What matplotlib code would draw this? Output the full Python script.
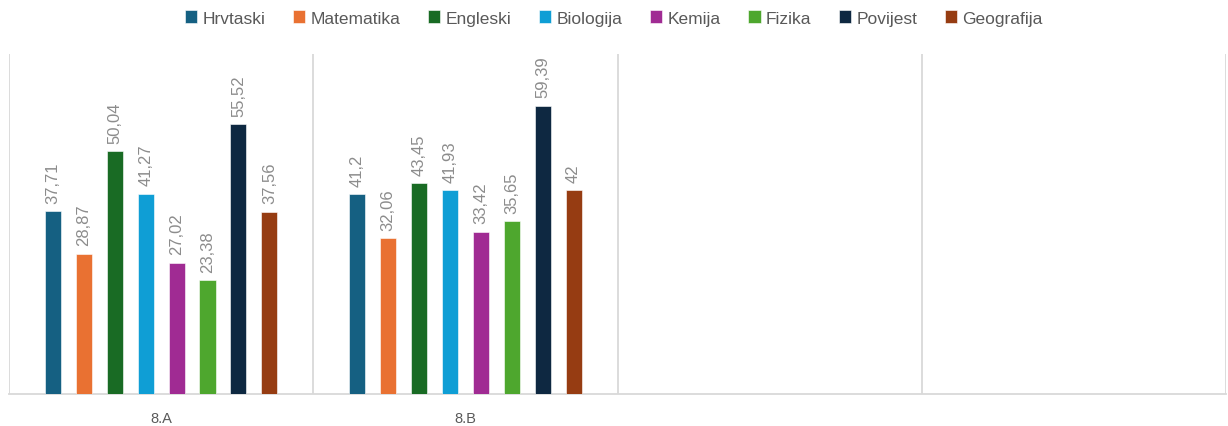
import matplotlib.pyplot as plt
import numpy as np

categories = ["8.A", "8.B", "", ""]
subjects = ["Hrvtaski", "Matematika", "Engleski", "Biologija", "Kemija", "Fizika", "Povijest", "Geografija"]
values_8a = [37.71, 28.87, 50.04, 41.27, 27.02, 23.38, 55.52, 37.56]
values_8b = [41.2, 32.06, 43.45, 41.93, 33.42, 35.65, 59.39, 42]
labels_8a = ["37,71", "28,87", "50,04", "41,27", "27,02", "23,38", "55,52", "37,56"]
labels_8b = ["41,2", "32,06", "43,45", "41,93", "33,42", "35,65", "59,39", "42"]
colors = ["#156082", "#E97132", "#196B24", "#0F9ED5", "#A02B93", "#4EA72E", "#0E2841", "#963C12"]

plt.rcParams["font.family"] = ["Liberation Sans", "DejaVu Sans"]

fig = plt.figure(figsize=(12.28, 4.27), dpi=100)
ax = fig.add_axes([9 / 1228, 1 - 395 / 427, 1217 / 1228, 340 / 427])

x = np.arange(len(categories))
pitch = 0.1016
width = 0.053
n = len(subjects)
for i, subj in enumerate(subjects):
    xs = x[:2] + (i - (n - 1) / 2) * pitch
    vals = [values_8a[i], values_8b[i]]
    labs = [labels_8a[i], labels_8b[i]]
    bars = ax.bar(xs, vals, width=width, color=colors[i], label=subj,
                  edgecolor="white", linewidth=0.4, zorder=3)
    for b, lab in zip(bars, labs):
        ax.annotate(lab, (b.get_x() + b.get_width() / 2, b.get_height()),
                    xytext=(0, 6), textcoords="offset points", rotation=90,
                    ha="center", va="bottom", fontsize=12, color="#8c8c8c")

ax.set_xlim(-0.5, 3.5)
ax.set_ylim(0, 70)
ax.set_yticks([])
ax.set_xticks(x[:2])
ax.set_xticklabels(categories[:2], fontsize=10.5, color="#595959")
ax.tick_params(axis="x", length=0, pad=12)
for gx in np.arange(-0.5, 4.0, 1.0):
    ax.axvline(gx, color="#d9d9d9", linewidth=1.3, zorder=1)
for s in ["top", "right", "left"]:
    ax.spines[s].set_visible(False)
ax.spines["bottom"].set_color("#d9d9d9")
ax.spines["bottom"].set_linewidth(1.3)

fig.legend(loc="upper center", bbox_to_anchor=(0.5, 1.01), ncol=n, frameon=False,
           fontsize=12.5, handlelength=0.7, handleheight=0.7, handletextpad=0.3,
           columnspacing=1.6, labelcolor="#595959")

fig.savefig("out.png", dpi=100)
